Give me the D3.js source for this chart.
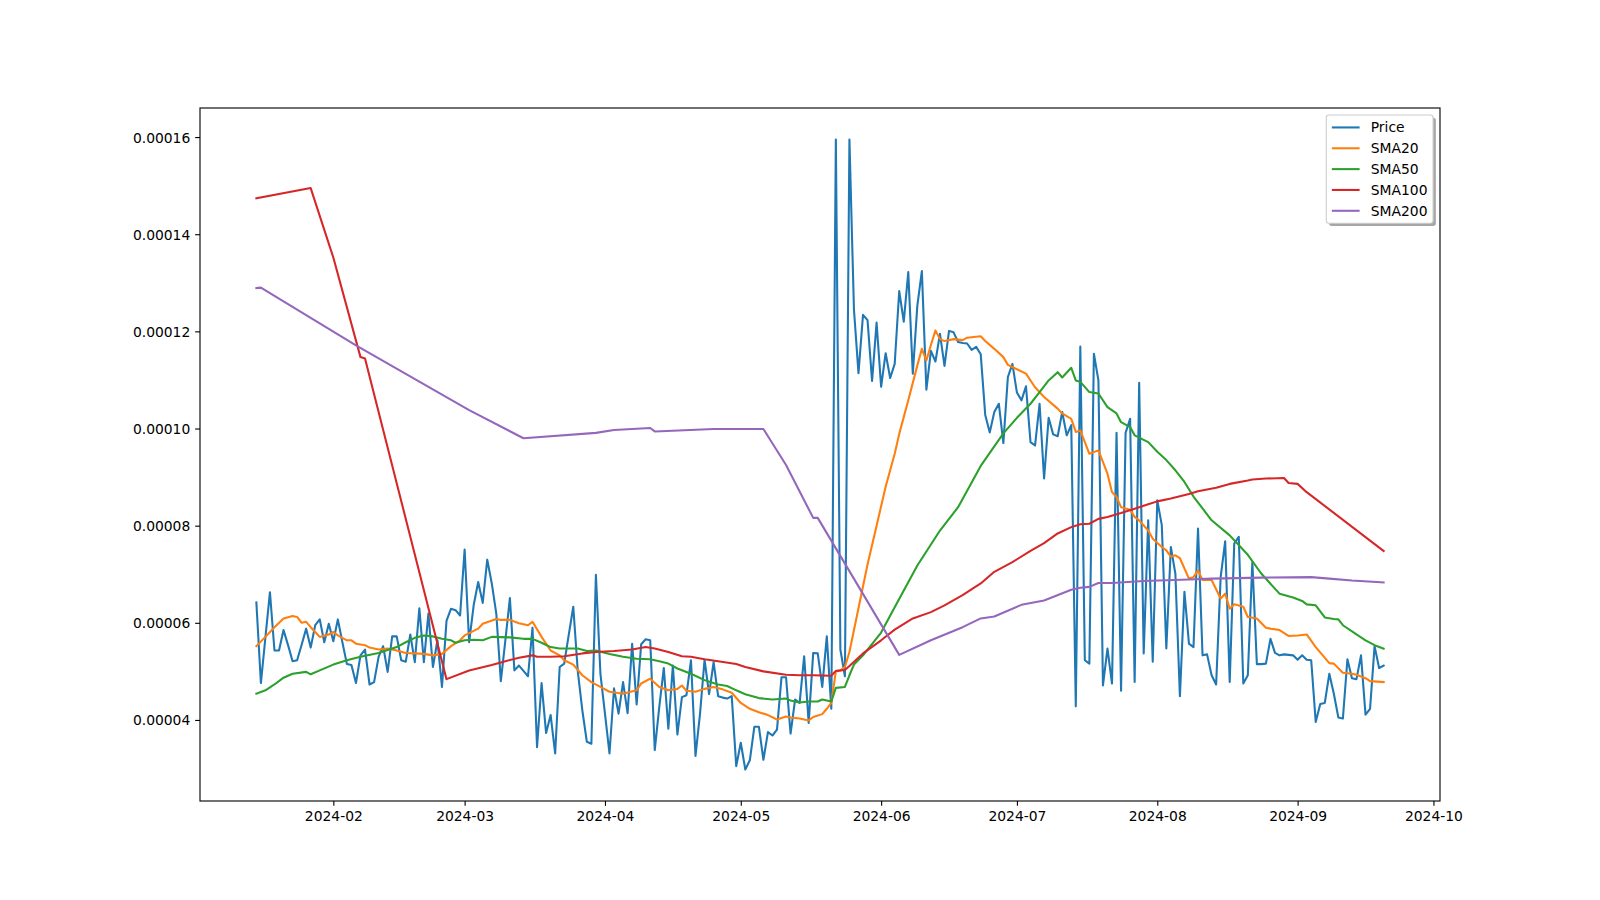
<!DOCTYPE html>
<html><head><meta charset="utf-8">
<script src="https://cdn.jsdelivr.net/npm/d3@7/dist/d3.min.js"></script>
<style>
body{margin:0;background:#fff}
svg text{font-family:"DejaVu Sans";font-size:13.89px;fill:#000}
</style>
</head><body>
<svg id="chart" width="1600" height="900"></svg>
<script>
// ---------------- DATA (values in units of 1e-5) ----------------
const UNIT = 1e-5;
const startDate = "2024-01-15";          // first daily observation
const seriesNames = ["Price", "SMA20", "SMA50", "SMA100", "SMA200"];
const seriesColors = ["#1f77b4", "#ff7f0e", "#2ca02c", "#d62728", "#9467bd"];

// daily close, one value per day from startDate
const price = [
 6.42,4.76,5.70,6.63,5.43,5.43,5.85,5.54,5.21,5.23,5.55,5.88,5.49,5.95,6.07,5.60,5.98,5.62,6.07,5.60,
 5.15,5.13,4.76,5.33,5.45,4.73,4.78,5.30,5.52,4.99,5.72,5.72,5.23,5.20,5.76,5.19,6.30,5.19,6.19,5.09,
 5.64,4.68,6.04,6.29,6.26,6.15,7.51,5.60,6.36,6.84,6.41,7.30,6.81,6.19,4.80,5.64,6.51,5.02,5.12,5.01,
 4.90,5.90,3.44,4.76,3.73,4.10,3.31,5.09,5.16,5.75,6.33,5.00,4.20,3.55,3.51,6.99,4.95,4.13,3.31,4.65,
 4.13,4.78,4.14,5.57,4.32,5.56,5.66,5.64,3.38,4.27,5.07,3.82,5.12,3.70,4.47,4.51,5.23,3.26,4.13,5.24,
 4.53,5.19,4.49,4.46,4.44,4.49,3.05,3.53,2.98,3.17,3.86,3.86,3.18,3.75,3.68,3.80,4.88,4.88,3.72,4.42,
 4.35,5.31,3.94,5.38,5.37,4.68,5.72,4.23,15.95,5.45,4.90,15.95,12.45,11.14,12.34,12.23,10.98,12.18,10.86,11.55,
 11.04,11.33,12.83,12.20,13.22,11.13,12.53,13.24,10.80,11.60,11.38,11.95,11.29,12.01,11.98,11.78,11.76,11.75,11.62,11.68,
 11.53,10.28,9.92,10.34,10.51,9.70,11.06,11.33,10.74,10.58,10.87,9.72,9.65,10.51,8.97,10.22,9.88,9.84,10.34,9.86,
 10.07,4.28,11.69,5.23,5.16,11.54,10.99,4.71,5.47,4.75,9.91,4.60,9.91,10.20,4.78,10.94,5.37,8.11,5.20,8.52,
 8.01,5.47,7.56,7.01,4.49,6.64,5.57,5.50,7.94,5.33,5.35,4.92,4.73,6.94,7.68,4.78,7.63,7.77,4.75,4.92,
 7.25,5.15,5.15,5.16,5.67,5.38,5.33,5.35,5.34,5.33,5.24,5.33,5.24,5.23,3.96,4.33,4.35,4.95,4.54,4.05,
 4.03,5.25,4.86,4.84,5.33,4.11,4.23,5.52,5.07,5.12
];

// moving averages as [day offset from startDate, value]
const sma20 = [[0,5.52],[2,5.71],[4,5.91],[6,6.09],[8,6.14],[9,6.12],[10,6.00],[11,6.02],[12,5.91],[13,5.81],[14,5.71],[16,5.76],[17,5.81],[18,5.74],[20,5.64],[21,5.64],[22,5.57],[24,5.54],[25,5.49],[27,5.45],[29,5.47],[31,5.43],[33,5.38],[35,5.37],[37,5.36],[39,5.33],[41,5.36],[43,5.52],[45,5.64],[46,5.74],[49,5.88],[50,5.98],[53,6.08],[54,6.06],[56,6.06],[58,5.99],[60,5.95],[61,6.02],[63,5.71],[65,5.43],[67,5.33],[68,5.23],[70,5.14],[72,4.92],[74,4.78],[76,4.68],[78,4.58],[81,4.54],[84,4.61],[85,4.75],[87,4.85],[89,4.68],[91,4.61],[93,4.64],[94,4.71],[95,4.60],[97,4.58],[99,4.64],[101,4.68],[103,4.63],[105,4.56],[107,4.35],[109,4.23],[111,4.16],[113,4.10],[115,4.01],[117,4.07],[118,4.05],[120,4.03],[122,3.99],[123,4.06],[125,4.12],[126,4.23],[127,4.35],[128,5.00],[129,5.02],[130,5.09],[131,5.40],[133,6.30],[135,7.20],[137,8.00],[139,8.80],[141,9.48],[142,9.89],[144,10.58],[146,11.30],[147,11.64],[148,11.40],[149,11.72],[150,12.02],[151,11.84],[152,11.80],[154,11.84],[156,11.82],[157,11.87],[160,11.90],[161,11.80],[163,11.64],[165,11.47],[166,11.31],[168,11.22],[170,11.13],[172,10.85],[174,10.65],[177,10.41],[178,10.31],[180,10.20],[181,9.93],[182,9.96],[184,9.48],[186,9.55],[188,9.07],[189,8.69],[190,8.59],[191,8.38],[193,8.33],[194,8.18],[195,8.11],[197,7.90],[198,7.73],[200,7.56],[201,7.49],[202,7.36],[203,7.39],[204,7.33],[206,6.91],[207,6.94],[208,7.08],[209,6.88],[211,6.88],[213,6.50],[214,6.60],[215,6.29],[216,6.38],[218,6.33],[219,6.12],[221,6.09],[223,5.90],[224,5.88],[226,5.85],[228,5.73],[230,5.74],[232,5.76],[234,5.50],[237,5.17],[238,5.16],[240,4.97],[242,4.95],[243,4.93],[245,4.86],[246,4.80],[249,4.78]];

const sma50 = [[0,4.54],[2,4.61],[4,4.73],[6,4.87],[8,4.95],[11,4.99],[12,4.94],[14,5.02],[17,5.14],[20,5.23],[23,5.30],[27,5.38],[31,5.50],[33,5.60],[35,5.69],[37,5.74],[39,5.72],[41,5.67],[43,5.64],[44,5.59],[46,5.64],[48,5.65],[50,5.64],[52,5.71],[56,5.70],[59,5.67],[61,5.67],[63,5.59],[65,5.50],[67,5.47],[71,5.47],[73,5.42],[75,5.43],[78,5.36],[81,5.30],[84,5.26],[87,5.25],[89,5.21],[91,5.16],[93,5.06],[96,4.95],[99,4.82],[102,4.73],[104,4.70],[106,4.61],[108,4.53],[111,4.45],[114,4.42],[117,4.44],[118,4.40],[120,4.36],[122,4.38],[124,4.38],[125,4.42],[127,4.38],[128,4.66],[130,4.68],[131,4.92],[132,5.14],[134,5.33],[138,5.80],[141,6.32],[146,7.18],[151,7.90],[155,8.38],[160,9.23],[165,9.90],[168,10.22],[171,10.51],[173,10.75],[175,10.99],[177,11.16],[178,11.05],[180,11.25],[181,10.99],[182,10.96],[184,10.75],[186,10.72],[188,10.44],[190,10.31],[191,10.13],[193,10.03],[194,9.86],[197,9.72],[199,9.52],[201,9.35],[203,9.14],[205,8.90],[207,8.60],[211,8.11],[215,7.80],[219,7.40],[222,7.01],[226,6.60],[229,6.52],[231,6.45],[232,6.38],[234,6.36],[236,6.11],[238,6.08],[239,6.07],[240,5.95],[243,5.76],[245,5.64],[247,5.54],[249,5.47]];

const sma100 = [[0,14.74],[12,14.95],[17,13.52],[23,11.47],[24,11.44],[42,4.84],[47,5.02],[52,5.13],[55,5.21],[58,5.28],[61,5.33],[62,5.30],[65,5.30],[68,5.31],[72,5.37],[75,5.40],[79,5.42],[83,5.45],[86,5.50],[88,5.47],[91,5.40],[94,5.31],[96,5.30],[99,5.25],[102,5.21],[106,5.15],[108,5.09],[112,5.00],[117,4.93],[120,4.92],[123,4.92],[127,4.91],[128,5.01],[130,5.03],[131,5.11],[134,5.37],[138,5.64],[141,5.86],[145,6.09],[149,6.22],[152,6.36],[156,6.57],[160,6.81],[163,7.05],[167,7.25],[171,7.48],[174,7.64],[177,7.84],[180,7.97],[182,8.03],[184,8.04],[186,8.14],[188,8.18],[191,8.26],[194,8.35],[197,8.44],[199,8.50],[202,8.56],[206,8.65],[208,8.71],[212,8.78],[215,8.86],[219,8.93],[220,8.95],[223,8.97],[227,8.98],[228,8.88],[230,8.86],[232,8.69],[249,7.48]];

const sma200 = [[0,12.89],[1,12.90],[22,11.71],[47,10.38],[59,9.80],[75,9.91],[79,9.97],[87,10.01],[88,9.94],[101,9.99],[112,9.99],[117,9.25],[123,8.16],[124,8.16],[142,5.34],[149,5.64],[156,5.91],[160,6.09],[163,6.13],[169,6.37],[174,6.46],[180,6.68],[182,6.72],[184,6.74],[186,6.82],[189,6.82],[196,6.86],[206,6.89],[211,6.91],[222,6.93],[233,6.94],[237,6.91],[242,6.87],[249,6.83]];

const yTickValues = [0.00004, 0.00006, 0.00008, 0.00010, 0.00012, 0.00014, 0.00016];
const xTickLabels = ["2024-02","2024-03","2024-04","2024-05","2024-06","2024-07","2024-08","2024-09","2024-10"];

// ---------------- BUILD ----------------
const t0 = new Date(startDate + "T00:00:00Z");
const dayToDate = d => d3.utcDay.offset(t0, d);
const series = [
  price.map((v, i) => [dayToDate(i), v * UNIT]),
  sma20.map(([d, v]) => [dayToDate(d), v * UNIT]),
  sma50.map(([d, v]) => [dayToDate(d), v * UNIT]),
  sma100.map(([d, v]) => [dayToDate(d), v * UNIT]),
  sma200.map(([d, v]) => [dayToDate(d), v * UNIT])
];

const W = 1600, H = 900;
const L = 200, R = 1440, T = 108, B = 801;
const svg = d3.select("#chart");

const allPts = series.flat();
const [xMin, xMax] = d3.extent(allPts, p => p[0]);
const xPad = (xMax - xMin) * 0.05;
const x = d3.scaleUtc().domain([new Date(+xMin - xPad), new Date(+xMax + xPad)]).range([L, R]);
const [yMin, yMax] = d3.extent(allPts, p => p[1]);
const yPad = (yMax - yMin) * 0.05;
const y = d3.scaleLinear().domain([yMin - yPad, yMax + yPad]).range([B, T]);

const tickLen = 4.86, tickPad = 4.86;

// x axis
const xTicks = xTickLabels.map(s => new Date(s + "-01T00:00:00Z"));
const xAxis = d3.axisBottom(x).tickValues(xTicks).tickFormat(d3.utcFormat("%Y-%m"))
  .tickSizeInner(tickLen).tickSizeOuter(0).tickPadding(tickPad);
const gx = svg.append("g").attr("transform", `translate(0,${B})`).call(xAxis);
gx.select(".domain").remove();
gx.selectAll("line").attr("stroke", "#000").attr("stroke-width", 1.11);
gx.selectAll("text").attr("font-family", "DejaVu Sans").attr("font-size", "13.89px").attr("fill", "#000").attr("dy", "0.76em");

// y axis
const yAxis = d3.axisLeft(y).tickValues(yTickValues).tickFormat(d3.format(".5f"))
  .tickSizeInner(tickLen).tickSizeOuter(0).tickPadding(tickPad);
const gy = svg.append("g").attr("transform", `translate(${L},0)`).call(yAxis);
gy.select(".domain").remove();
gy.selectAll("line").attr("stroke", "#000").attr("stroke-width", 1.11);
gy.selectAll("text").attr("font-family", "DejaVu Sans").attr("font-size", "13.89px").attr("fill", "#000").attr("dy", "0.36em");

// clip
svg.append("clipPath").attr("id", "clip").append("rect")
  .attr("x", L).attr("y", T).attr("width", R - L).attr("height", B - T);

const line = d3.line().x(p => x(p[0])).y(p => y(p[1]));
const gl = svg.append("g").attr("clip-path", "url(#clip)");
series.forEach((s, k) => {
  gl.append("path").datum(s).attr("d", line)
    .attr("fill", "none").attr("stroke", seriesColors[k]).attr("stroke-width", 2.08)
    .attr("stroke-linejoin", "round").attr("stroke-linecap", "square");
});

// frame
svg.append("rect").attr("x", L).attr("y", T).attr("width", R - L).attr("height", B - T)
  .attr("fill", "none").attr("stroke", "#000").attr("stroke-width", 1.11);

// legend
const fs = 13.89;
const pad = 0.4 * fs, lsp = 0.5 * fs, hl = 2 * fs, htp = 0.8 * fs, bap = 0.5 * fs;
const rowH = fs;
const tmp = svg.append("text").text("SMA200");
const textW = tmp.node().getComputedTextLength();
tmp.remove();
const lw = 2 * pad + hl + htp + textW;
const lh = 2 * pad + seriesNames.length * rowH + (seriesNames.length - 1) * lsp;
const lx = R - bap - lw, ly = T + bap;
const lg = svg.append("g");
lg.append("rect").attr("x", lx + 2.78).attr("y", ly + 2.78).attr("width", lw).attr("height", lh)
  .attr("rx", 0.2 * fs).attr("fill", "#4d4d4d").attr("fill-opacity", 0.5);
lg.append("rect").attr("x", lx).attr("y", ly).attr("width", lw).attr("height", lh)
  .attr("rx", 0.2 * fs).attr("fill", "#fff").attr("stroke", "#cccccc").attr("stroke-width", 1.11);
seriesNames.forEach((nm, k) => {
  const cy = ly + pad + k * (rowH + lsp) + rowH / 2;
  lg.append("line").attr("x1", lx + pad).attr("x2", lx + pad + hl).attr("y1", cy).attr("y2", cy)
    .attr("stroke", seriesColors[k]).attr("stroke-width", 2.08);
  lg.append("text").attr("x", lx + pad + hl + htp).attr("y", cy).attr("dy", "0.36em").text(nm);
});
</script>
</body></html>
